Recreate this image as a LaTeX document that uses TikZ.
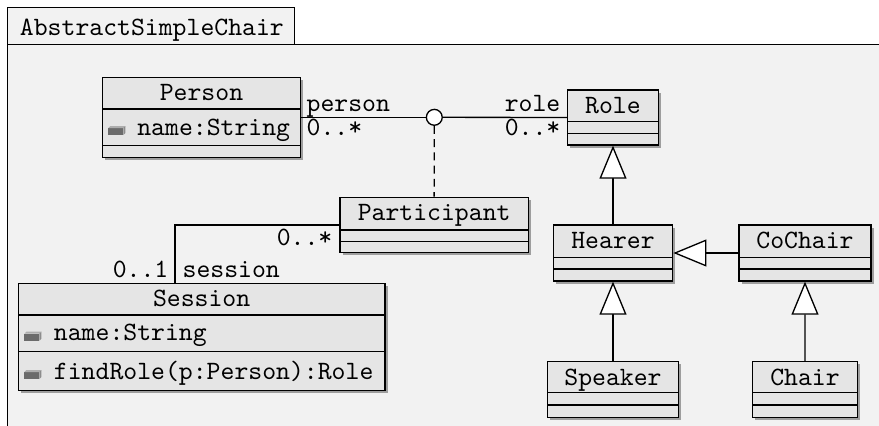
\documentclass[tikz,border=0pt]{standalone}
\usetikzlibrary{arrows.meta,fit}
\definecolor{bgc}{HTML}{F2F2F2}
\definecolor{boxc}{HTML}{E5E5E5}
% #1 name, #2 x1, #3 y1, #4 x2, #5 y2, #6 title
\newcommand\umlcls[6]{%
  \fill[shadowc] (#2+2.5,#3+2.5) rectangle (#4+2.5,#5+2.5);
  \node[clsbox, fit={(#2,#3)(#4,#5)}] (#1) {};
  \node[lbl, anchor=base] (#1-t) at ({(#2+#4)/2},#3+23.5) {#6};
}
% #1 x1, #2 x2, #3 y
\newcommand\umlsep[3]{\draw (#1,#3) -- (#2,#3);}
% #1 x, #2 baseline y
\newcommand\privicon[2]{%
  \fill[black!58] (#1,#2-7) rectangle (#1+15,#2);
  \fill[black!32] (#1,#2-7) -- (#1+2,#2-9) -- (#1+17,#2-9) -- (#1+15,#2-7) -- cycle;
  \fill[black!45] (#1+15,#2-7) -- (#1+17,#2-9) -- (#1+17,#2-2) -- (#1+15,#2) -- cycle;
}
\begin{document}
\begin{tikzpicture}[x=0.378pt,y=-0.378pt, font=\ttfamily, line width=0.5pt,
  clsbox/.style={draw, fill=boxc, inner sep=0pt},
  shadowc/.style={fill=black!38},
  lbl/.style={inner sep=0pt},
  gen/.style={-{Triangle[fill=white,length=12.5pt,width=10.2pt]}},
  ]
\useasboundingbox (0,0) rectangle (879,426);
\clip (0,0) rectangle (879,426);
% package frame
\draw[fill=bgc] (7.3,44.3) rectangle (950,500);
\draw[fill=bgc] (7.3,7.3) rectangle (294.3,44.3);
\node[lbl, anchor=base west] (pkg) at (19.3,35) {AbstractSimpleChair};

% Person
\umlcls{person}{102.3}{77.3}{300.7}{157.3}{Person}
\umlsep{102.3}{300.7}{109}
\umlsep{102.3}{300.7}{145.7}
\privicon{108.3}{135}
\node[lbl, anchor=base west] (person-a1) at (136.7,135) {name:String};

% Role
\umlcls{role}{567.7}{90}{658.3}{145}{Role}
\umlsep{567.7}{658.3}{121.7}
\umlsep{567.7}{658.3}{133.3}

% Participant
\umlcls{participant}{340}{197.3}{528.3}{252.7}{Participant}
\umlsep{340}{528.3}{230}
\umlsep{340}{528.3}{241.7}

% Session
\umlcls{session}{18.3}{283.3}{385}{390.7}{Session}
\umlsep{18.3}{385}{315}
\umlsep{18.3}{385}{351.7}
\privicon{24.3}{340.7}
\node[lbl, anchor=base west] (session-a1) at (53.3,340.7) {name:String};
\privicon{24.3}{379}
\node[lbl, anchor=base west] (session-m1) at (53.3,379) {findRole(p:Person):Role};

% Hearer
\umlcls{hearer}{553.3}{225}{672.7}{281}{Hearer}
\umlsep{553.3}{672.7}{257.3}
\umlsep{553.3}{672.7}{269}

% CoChair
\umlcls{cochair}{739}{225}{871}{281}{CoChair}
\umlsep{739}{871}{257.3}
\umlsep{739}{871}{269}

% Speaker
\umlcls{speaker}{547.3}{361.7}{678.7}{417.7}{Speaker}
\umlsep{547.3}{678.7}{392.3}
\umlsep{547.3}{678.7}{405}

% Chair
\umlcls{chair}{752.7}{361.7}{857.3}{417.7}{Chair}
\umlsep{752.7}{857.3}{392.3}
\umlsep{752.7}{857.3}{405}

% association class
\node[draw, fill=white, circle, inner sep=0pt, minimum size=6pt] (assoc) at (434.3,117.3) {};
\draw (person.east) -- (assoc.west);
\draw (assoc.east) -- (role.west);
\draw[dash pattern=on 3pt off 2pt] (assoc.south) -- (participant.north);

\node[lbl, anchor=base west] (l-person) at (306,111) {person};
\node[lbl, anchor=base west] (l-pmult) at (306,135.5) {0..*};
\node[lbl, anchor=base east] (l-role) at (561,111) {role};
\node[lbl, anchor=base east] (l-rmult) at (561,135.5) {0..*};

% participant - session
\coordinate (sesstop) at (175,283.3);
\draw (participant.west) -| (sesstop);
\node[lbl, anchor=base east] (l-partmult) at (333,245) {0..*};
\node[lbl, anchor=base east] (l-sessmult) at (169,277) {0..1};
\node[lbl, anchor=base west] (l-session) at (182,277) {session};

% generalizations
\draw[gen] (hearer.north) -- (role.south);
\draw[gen] (cochair.west) -- (hearer.east);
\draw[gen] (speaker.north) -- (hearer.south);
\draw[gen] (chair.north) -- (cochair.south);
\end{tikzpicture}
\end{document}
